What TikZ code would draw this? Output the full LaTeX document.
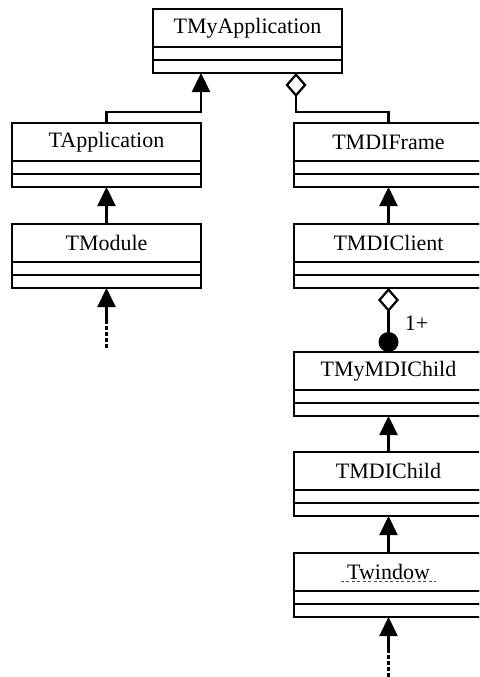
\documentclass[tikz,border=0pt]{standalone}
\usepackage{fontspec}
\setmainfont{Liberation Serif}
\usepackage{tikz}
\usetikzlibrary{arrows.meta,positioning}
\tikzset{cls/.style={rectangle,draw,line width=2.2pt,outer sep=0pt,inner sep=0pt,minimum width=189pt,minimum height=38pt,font=\fontsize{22}{26}\selectfont}}
\tikzset{cmp/.style={rectangle,draw,line width=2.2pt,outer sep=0pt,inner sep=0pt,minimum width=189pt,minimum height=13pt}}
\tikzset{inh/.style={line width=2.2pt,-{Triangle[length=19pt,width=18pt]}}}
\tikzset{agg/.style={line width=2.2pt,-{Diamond[open,length=24pt,width=21pt]}}}
\tikzset{tail/.style={inh,dash pattern=on 4pt off 2pt on 4pt off 2pt on 4pt off 2pt on 4pt off 2pt on 60pt off 1pt}}
\tikzset{dot/.style={circle,fill,outer sep=0pt,inner sep=0pt,minimum size=20pt}}

\begin{document}
\begin{tikzpicture}[x=1pt,y=-1pt]
        \useasboundingbox (0,0) rectangle (479,677);
        \clip (0,0) rectangle (479,677);

        \node[cls] (myapp)at (247.5,28) {TMyApplication};
        \node[cmp] (myapp-a) [below=0pt of myapp] {};
        \node[cmp] (myapp-o) [below=0pt of myapp-a] {};

        \node[cls] (tapp)at (106.5,142) {TApplication};
        \node[cmp] (tapp-a) [below=0pt of tapp] {};
        \node[cmp] (tapp-o) [below=0pt of tapp-a] {};

        \node[cls] (module)at (106.5,243) {TModule};
        \node[cmp] (module-a) [below=0pt of module] {};
        \node[cmp] (module-o) [below=0pt of module-a] {};

        \node[cls] (frame)at (388.5,142) {TMDIFrame};
        \node[cmp] (frame-a) [below=0pt of frame] {};
        \node[cmp] (frame-o) [below=0pt of frame-a] {};

        \node[cls] (client)at (388.5,243) {TMDIClient};
        \node[cmp] (client-a) [below=0pt of client] {};
        \node[cmp] (client-o) [below=0pt of client-a] {};

        \node[cls] (mychild)at (388.5,371) {TMyMDIChild};
        \node[cmp] (mychild-a) [below=0pt of mychild] {};
        \node[cmp] (mychild-o) [below=0pt of mychild-a] {};

        \node[cls] (child)at (388.5,471) {TMDIChild};
        \node[cmp] (child-a) [below=0pt of child] {};
        \node[cmp] (child-o) [below=0pt of child-a] {};

        \node[cls] (win)at (388.5,572) {Twindow};
        \node[cmp] (win-a) [below=0pt of win] {};
        \node[cmp] (win-o) [below=0pt of win-a] {};

        \node[dot] (mult) [above=0pt of mychild] {};
        \node[inner sep=0pt,font=\fontsize{22}{26}\selectfont] (mult-l) [above right=4pt and 9pt of mult] {1+};

        \coordinate (module-t) at (106.5,348);
        \coordinate (win-t) at (388.5,677);

        \draw [inh] (tapp.north) -- ++(0,-11) -| ([xshift=-46.5pt]myapp-o.south);
        \draw [agg] (frame.north) -- ++(0,-11) -| ([xshift=48.5pt]myapp-o.south);
        \draw [inh] (module.north) -- (tapp-o.south);
        \draw [tail] (module-t) -- (module-o.south);
        \draw [inh] (client.north) -- (frame-o.south);
        \draw [agg] (mult) -- (client-o.south);
        \draw [inh] (child.north) -- (mychild-o.south);
        \draw [inh] (win.north) -- (child-o.south);
        \draw [tail] (win-t) -- (win-o.south);

        \draw [black!70,line width=0.9pt,dash pattern=on 3pt off 2.5pt] ([xshift=-48pt,yshift=-9pt]win.center) -- ([xshift=47pt,yshift=-9pt]win.center);
    \end{tikzpicture}
\end{document}
